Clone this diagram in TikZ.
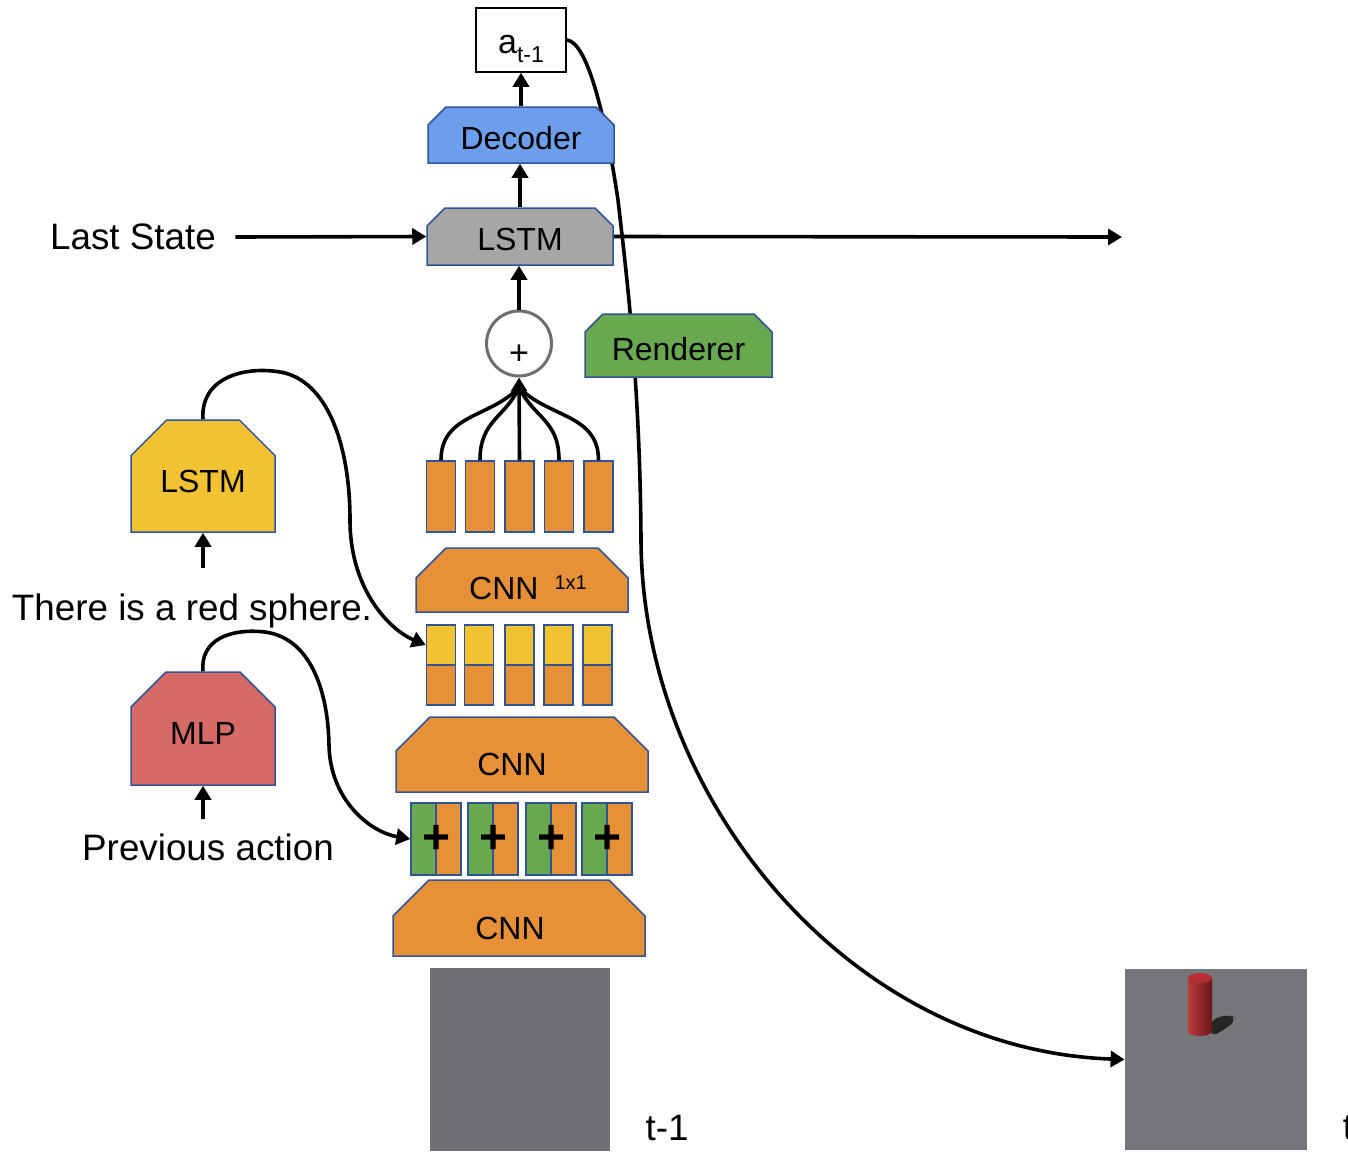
\documentclass[tikz,border=0pt]{standalone}
\usepackage{fontspec}
\setmainfont{Liberation Sans}
\usetikzlibrary{shapes.misc,arrows.meta}

\definecolor{edge}{RGB}{47,85,151}
\definecolor{orng}{RGB}{230,145,56}
\definecolor{yel}{RGB}{241,194,50}
\definecolor{grn}{RGB}{106,168,79}
\definecolor{blu}{RGB}{109,158,235}
\definecolor{mlpred}{RGB}{214,106,102}
\definecolor{lstmgray}{RGB}{166,166,166}
\definecolor{imgbg}{RGB}{111,112,116}
\definecolor{imgbg2}{RGB}{117,118,122}
\definecolor{cyl}{RGB}{178,36,40}

\begin{document}
\begin{tikzpicture}[x=0.5pt,y=-0.5pt]
    \tikzset{
      blk/.style={chamfered rectangle, chamfered rectangle corners={north west,north east},
        chamfered rectangle sep=#1, draw=edge, line width=0.75pt, inner sep=0pt,
        font=\fontsize{16}{19}\selectfont},
      bar/.style={rectangle, draw=edge, line width=0.75pt, inner sep=0pt,
        minimum width=14.5pt, minimum height=35.5pt, fill=orng},
      cell/.style={bar, minimum height=20pt},
      halfbar/.style={bar, minimum width=12.5pt, minimum height=36pt},
      conn/.style={line width=1.8pt, -{Triangle[length=7pt,width=8pt]}},
      wire/.style={line width=1.8pt},
      word/.style={font=\fontsize{18.4}{22}\selectfont, inner sep=0pt},
      plus/.style={font=\fontsize{24}{24}\selectfont\bfseries, inner sep=0pt},
      pic/.style={inner sep=0pt, draw=none}
    }
    \useasboundingbox (0,0) rectangle (1348,1151);

    \node[draw, line width=0.75pt, minimum width=45pt, minimum height=32pt, inner sep=0pt,
          text height=18pt, text depth=5pt] (act) at (521,40)
          {{\fontsize{17}{19}\selectfont a}\raisebox{-5pt}{\fontsize{11.5}{13}\selectfont t-1}};
    \node[pic, fill=imgbg2, minimum width=91pt, minimum height=90.5pt] (img2) at (1216,1059.5) {};

    % rendered frame gets fed back from the action
    \draw[conn] (act.east) .. controls (588,42) and (606,120) .. (618,200)
      .. controls (626,270) and (640,380) .. (641,540)
      .. controls (642,800) and (850,1050) .. (img2.west);

    \node[blk=4.5pt, fill=blu, minimum width=93pt, minimum height=28pt, text height=14.7pt] (dec) at (521,135) {Decoder};
    \node[blk=4.5pt, fill=lstmgray, minimum width=93pt, minimum height=28.5pt, text height=14.2pt] (lstm) at (520,236.5) {LSTM};
    \node[circle, draw=black!57, fill=white, line width=1.5pt, minimum size=32.5pt, inner sep=0pt,
          font=\fontsize{17}{17}\selectfont, text height=20.5pt] (sum) at (519,343.5) {+};
    \node[blk=4.5pt, fill=grn, minimum width=93.5pt, minimum height=31.5pt, text height=15.2pt] (rend) at (678.5,345.5) {Renderer};

    \node[bar] (f1) at (441,496.5) {};
    \node[bar] (f2) at (480,496.5) {};
    \node[bar] (f3) at (519.5,496.5) {};
    \node[bar] (f4) at (559,496.5) {};
    \node[bar] (f5) at (598.5,496.5) {};

    \node[blk=15pt, fill=orng, minimum width=106pt, minimum height=32pt] (cnna) at (522,580)
      {\raisebox{-9.75pt}[0pt][0pt]{\hspace*{6pt}CNN\hspace{8pt}\raisebox{5pt}{\fontsize{10}{12}\selectfont 1x1}}};

    \node[cell, fill=yel] (y1) at (441,645) {};
    \node[cell, fill=yel] (y2) at (479,645) {};
    \node[cell, fill=yel] (y3) at (519.5,645) {};
    \node[cell, fill=yel] (y4) at (558.5,645) {};
    \node[cell, fill=yel] (y5) at (597.5,645) {};
    \node[cell] (o1) at (441,685) {};
    \node[cell] (o2) at (479,685) {};
    \node[cell] (o3) at (519.5,685) {};
    \node[cell] (o4) at (558.5,685) {};
    \node[cell] (o5) at (597.5,685) {};

    \node[blk=17pt, fill=orng, minimum width=126pt, minimum height=37.5pt] (cnnb) at (522,754.5)
      {\raisebox{-10.5pt}[0pt][0pt]{CNN\hspace*{10pt}}};

    \node[halfbar, fill=grn] (g1) at (423.5,839) {};
    \node[halfbar] (h1) at (448.5,839) {};
    \node[halfbar, fill=grn] (g2) at (480.5,839) {};
    \node[halfbar] (h2) at (505.5,839) {};
    \node[halfbar, fill=grn] (g3) at (538.5,839) {};
    \node[halfbar] (h3) at (563.5,839) {};
    \node[halfbar, fill=grn] (g4) at (594.5,839) {};
    \node[halfbar] (h4) at (619.5,839) {};
    \node[plus] (p1) at (g1.east) {+};
    \node[plus] (p2) at (g2.east) {+};
    \node[plus] (p3) at (g3.east) {+};
    \node[plus] (p4) at (g4.east) {+};

    \node[blk=18pt, fill=orng, minimum width=126pt, minimum height=38pt] (cnnc) at (519,918)
      {\raisebox{-10.75pt}[0pt][0pt]{CNN\hspace*{9pt}}};
    \node[pic, fill=imgbg, minimum width=90pt, minimum height=91.5pt] (img1) at (520,1059.5) {};

    % red cylinder with its shadow
    \fill[black!85, rounded corners=4pt] (1210,1020) -- (1229,1014) -- (1237,1019)
      -- (1226,1029) -- (1210,1037) -- cycle;
    \shade[left color=cyl!90!white, right color=cyl!60!black] (1188,978) rectangle (1212,1031);
    \shade[left color=cyl!90!white, right color=cyl!60!black] (1200,1031) ellipse (12 and 5);
    \fill[cyl!95!white] (1200,978) ellipse (12 and 5);

    \node[blk=9.5pt, fill=yel, minimum width=72pt, minimum height=56pt, text height=16.5pt] (ylstm) at (203,476) {LSTM};
    \node[blk=9.5pt, fill=mlpred, minimum width=72pt, minimum height=56.5pt, text height=16pt] (mlp) at (203,728.5) {MLP};

    \node[word] (state) at (133,237) {Last State};
    \node[word] (sent) at (192,611) {There is a red sphere.};
    \node[word] (prev) at (208,847) {Previous action};
    \node[word] (tprev) at (667,1128) {t-1};
    \node[word] (tnow) at (1348,1128) {t};

    \draw[conn] (dec.north) -- (dec.north |- act.south);
    \draw[conn] (lstm.north) -- (lstm.north |- dec.south);
    \draw[conn] (sum.north) -- (sum.north |- lstm.south);
    \draw[conn] ([xshift=9.5pt]state.east) -- (lstm.west);
    \coordinate (next) at (1122,237);
    \draw[conn] (lstm.east) -- (next);

    \coordinate (fan) at ([yshift=-5pt]sum.south);
    \draw[wire] (f1.north) .. controls (441,414) and (490,418) .. (fan);
    \draw[wire] (f2.north) .. controls (480,420) and (505,418) .. (fan);
    \draw[conn] (f3.north) -- (sum.south);
    \draw[wire] (f4.north) .. controls (559,420) and (534,418) .. (fan);
    \draw[wire] (f5.north) .. controls (598.5,414) and (549,418) .. (fan);

    \draw[conn] ([yshift=-17.5pt]ylstm.south) -- (ylstm.south);
    \draw[conn] ([yshift=-16.5pt]mlp.south) -- (mlp.south);

    \draw[conn] (ylstm.north) .. controls (200,375) and (250,365) .. (285,373)
      .. controls (330,385) and (350,450) .. (350,520)
      .. controls (350,590) and (390,630) .. (y1.west);
    \draw[conn] (mlp.north) .. controls (200,640) and (230,628) .. (265,632)
      .. controls (310,638) and (328,690) .. (329,745)
      .. controls (330,800) and (370,832) .. (g1.west);
\end{tikzpicture}
\end{document}
